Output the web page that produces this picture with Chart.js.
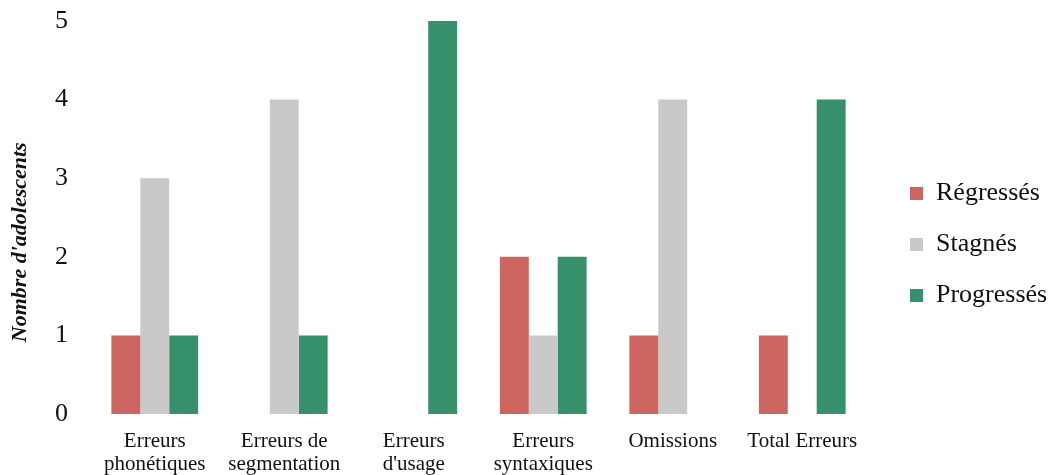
<!DOCTYPE html>
<html>
<head>
<meta charset="utf-8">
<script src="https://cdn.jsdelivr.net/npm/chart.js"></script>
<style>
    html, body {
        margin: 0;
        padding: 0;
        background: #ffffff;
    }
    .wrap {
        width: 1053px;
        height: 475px;
        position: relative;
    }
</style>
</head>
<body>
<div class="wrap">
    <canvas id="chart" width="1053" height="475"></canvas>
</div>

<script>
    // categories (x axis)
    const categories = [
        ['Erreurs', 'phonétiques'],
        ['Erreurs de', 'segmentation'],
        ['Erreurs', "d'usage"],
        ['Erreurs', 'syntaxiques'],
        ['Omissions'],
        ['Total Erreurs']
    ];

    // series values
    const regresses = [1, 0, 0, 2, 1, 1];
    const stagnes = [3, 4, 0, 1, 4, 0];
    const progresses = [1, 1, 5, 2, 0, 4];

    const yTicks = [0, 1, 2, 3, 4, 5];

    const serif = '"Liberation Serif", "Times New Roman", serif';

    // the legend sits a bit further right than chart.js puts it
    const legendShift = {
        id: 'legendShift',
        afterLayout(chart) {
            chart.legend.left += 18;
            chart.legend.right += 18;
        }
    };

    new Chart(document.getElementById('chart').getContext('2d'), {
        type: 'bar',
        data: {
            labels: categories,
            datasets: [
                { label: 'Régressés', data: regresses, backgroundColor: '#cd6660' },
                { label: 'Stagnés', data: stagnes, backgroundColor: '#c9c9c9' },
                { label: 'Progressés', data: progresses, backgroundColor: '#35906b' }
            ]
        },
        plugins: [legendShift],
        options: {
            responsive: false,
            animation: false,
            layout: {
                padding: { top: 14, right: 0, left: 0, bottom: 0 }
            },
            datasets: {
                bar: {
                    categoryPercentage: 0.67,
                    barPercentage: 1.0
                }
            },
            scales: {
                x: {
                    grid: { display: false },
                    border: { display: false },
                    afterFit: axis => {
                        axis.height = 61;
                        axis.paddingLeft = 0;
                        axis.paddingRight = 186;  // keep plot narrower than the legend column
                    },
                    ticks: {
                        color: '#111',
                        font: { family: serif, size: 21, lineHeight: 1.1 },
                        padding: 8,
                        maxRotation: 0,
                        autoSkip: false
                    }
                },
                y: {
                    min: 0,
                    max: 5,
                    afterBuildTicks: axis => {
                        axis.ticks = yTicks.map(v => ({ value: v }));
                    },
                    afterFit: axis => {
                        axis.width = 90;
                        axis.paddingTop = 21;
                        axis.paddingBottom = 0;
                    },
                    grid: { display: false },
                    border: { display: false },
                    ticks: {
                        color: '#111',
                        font: { family: serif, size: 26 },
                        padding: 14
                    },
                    title: {
                        display: true,
                        text: "Nombre d'adolescents\u00a0\u00a0\u00a0\u00a0\u00a0\u00a0\u00a0\u00a0\u00a0",
                        color: '#111',
                        font: { family: serif, size: 22, style: 'italic', weight: 'bold' },
                        padding: { top: 7, bottom: 0 }
                    }
                }
            },
            plugins: {
                legend: {
                    position: 'right',
                    labels: {
                        color: '#111',
                        font: { family: serif, size: 26 },
                        boxWidth: 13,
                        boxHeight: 13,
                        padding: 25
                    }
                },
                tooltip: { enabled: false }
            }
        }
    });
</script>
</body>
</html>
